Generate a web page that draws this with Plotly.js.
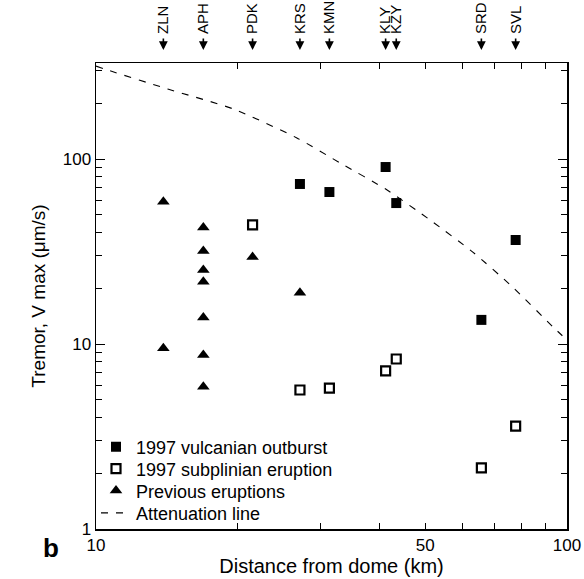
<!DOCTYPE html>
<html>
<head>
<meta charset="utf-8">
<script src="https://cdn.plot.ly/plotly-3.0.1.min.js"></script>
<style>html,body{margin:0;padding:0;background:#fff;}#chart{width:584px;height:579px;}</style>
</head>
<body>
<div id="chart"></div>
<script>
// Stations (distance from dome, km)
const stationNames = ["ZLN", "APH", "PDK", "KRS", "KMN", "KLY", "KZY", "SRD", "SVL"];
const stationDist  = [13.9, 16.9, 21.5, 27.1, 31.3, 41.2, 43.4, 65.8, 77.8];

// 1997 vulcanian outburst
const vulcX = [27.1, 31.3, 41.2, 43.4, 65.8, 77.8];
const vulcY = [73.3, 66.3, 90.5, 57.8, 13.5, 36.5];

// 1997 subplinian eruption
const subX = [21.5, 27.1, 31.3, 41.2, 43.4, 65.8, 77.8];
const subY = [44.0, 5.64, 5.78, 7.15, 8.3, 2.14, 3.6];

// Previous eruptions
const prevX = [13.9, 13.9, 16.9, 16.9, 16.9, 16.9, 16.9, 16.9, 16.9, 21.5, 27.1];
const prevY = [58.8, 9.5, 42.7, 31.8, 25.1, 21.7, 13.9, 8.72, 5.88, 29.5, 18.9];

// Attenuation line
const attX = [10, 10.7, 14.2, 19.5, 26.7, 33.0, 41.5, 51.2, 63.1, 76.7, 93.3, 100];
const attY = [318, 300, 239, 187, 130, 95.1, 68.0, 46.8, 31.4, 20.3, 12.4, 10.5];

// Axis ticks
const xTickVals = [10, 20, 30, 40, 50, 60, 70, 80, 90, 100];
const xTickText = ["10", "", "", "", "50", "", "", "", "", "100"];
const yMajorVals = [1, 10, 100];
const yMajorText = ["1", "10", "100"];
const yMinorVals = [2, 3, 4, 5, 6, 7, 8, 9, 20, 30, 40, 50, 60, 70, 80, 90, 200, 300];

const FONT = "Liberation Sans, Arial, Helvetica, sans-serif";

const traces = [
  {x: vulcX, y: vulcY, type: "scatter", mode: "markers", name: "1997 vulcanian outburst", legend: "legend",
   marker: {symbol: "square", size: 10, color: "#000"}},
  {x: subX, y: subY, type: "scatter", mode: "markers", name: "1997 subplinian eruption", legend: "legend2",
   marker: {symbol: "square-open", size: 9, color: "#000", line: {width: 2.2, color: "#000"}}},
  {x: prevX, y: prevY, type: "scatter", mode: "markers", name: "Previous eruptions", legend: "legend3",
   marker: {symbol: "triangle-up", size: 11, color: "#000"}},
  {x: attX, y: attY, type: "scatter", mode: "lines", name: "Attenuation line", legend: "legend4",
   line: {color: "#000", width: 1.1, dash: "7px,8px", shape: "spline", smoothing: 0.6}},
  {x: [null], y: [null], xaxis: "x2", yaxis: "y", type: "scatter", mode: "markers",
   showlegend: false, hoverinfo: "skip"}
];

// legend rows (each entry its own legend so the row spacing matches)
const legendRowsY = [0.176, 0.129, 0.082, 0.034];
function legendAt(y) {
  return {x: 0.0, y: y, xanchor: "left", yanchor: "middle", bgcolor: "rgba(0,0,0,0)",
          font: {size: 18, family: FONT}, borderwidth: 0};
}

// station arrows (from station distances)
const stationArrows = stationDist.map(d => ({
  x: Math.log10(d), xref: "x", y: 1.028, yref: "paper",
  text: "", showarrow: true, ax: 0, ay: -13, arrowhead: 2, arrowsize: 1.1,
  arrowwidth: 1.6, arrowcolor: "#000", font: {size: 1}
}));

const layout = {
  width: 584, height: 579,
  paper_bgcolor: "#fff", plot_bgcolor: "#fff",
  font: {family: FONT, color: "#000", size: 16},
  margin: {l: 96, r: 17, t: 63, b: 50},
  showlegend: true,
  legend: legendAt(legendRowsY[0]),
  legend2: legendAt(legendRowsY[1]),
  legend3: legendAt(legendRowsY[2]),
  legend4: legendAt(legendRowsY[3]),
  xaxis: {
    type: "log", range: [1, 2],
    tickmode: "array", tickvals: xTickVals, ticktext: xTickText,
    ticks: "inside", ticklen: 6, tickwidth: 1, tickcolor: "#000",
    showline: true, linecolor: "#000", linewidth: 1.5, mirror: "ticks",
    showgrid: false, zeroline: false,
    tickfont: {size: 17},
    title: {text: "Distance from dome (km)", font: {size: 20}, standoff: 4}
  },
  xaxis2: {
    type: "log", range: [1, 2], overlaying: "x", side: "top", anchor: "y",
    tickmode: "array", tickvals: stationDist, ticktext: stationNames,
    tickangle: -90, ticks: "", showline: false, showgrid: false, zeroline: false,
    tickfont: {size: 15}, ticklabelstandoff: 28
  },
  yaxis: {
    type: "log", range: [0, 2.519],
    tickmode: "array", tickvals: yMajorVals, ticktext: yMajorText,
    ticks: "inside", ticklen: 9, tickwidth: 1, tickcolor: "#000",
    minor: {tickmode: "array", tickvals: yMinorVals, ticks: "inside", ticklen: 6, tickwidth: 1, tickcolor: "#000", showgrid: false},
    showline: true, linecolor: "#000", linewidth: 1.5, mirror: "ticks",
    showgrid: false, zeroline: false,
    tickfont: {size: 17},
    title: {text: "Tremor, V max (\u03bcm/s)", font: {size: 19}, standoff: 12}
  },
  annotations: [
    {text: "<b>b</b>", xref: "paper", yref: "paper", x: (51 - 96) / 471, y: -0.041,
     xanchor: "center", yanchor: "middle", showarrow: false, font: {size: 26, family: FONT}}
  ].concat(stationArrows)
};

Plotly.newPlot("chart", traces, layout, {displayModeBar: false, staticPlot: true});
</script>
</body>
</html>
